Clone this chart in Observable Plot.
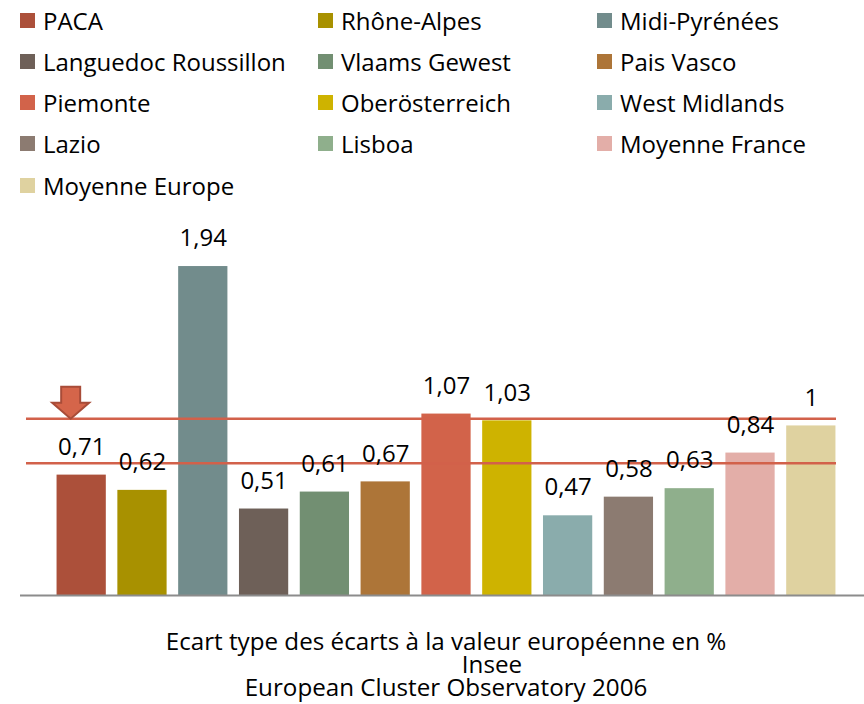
<!DOCTYPE html>
<html>
<head>
<meta charset="utf-8">
<script src="https://cdn.jsdelivr.net/npm/d3@7"></script>
<script src="https://cdn.jsdelivr.net/npm/@observablehq/plot@0.6"></script>
<style>
  html, body { margin: 0; padding: 0; background: #fff; }
  #wrap { position: relative; width: 864px; height: 704px; overflow: hidden; font-family: "Open Sans", sans-serif; color: #000; }
  .lg { position: absolute; display: flex; align-items: center; height: 30px; font-size: 24px; white-space: nowrap; }
  .sw { width: 15px; height: 15px; margin-right: 8px; flex: none; }
  #chart { position: absolute; left: 0; top: 205px; }
  #cap { position: absolute; left: 0; top: 629px; width: 864px; text-align: center; font-size: 24.2px; line-height: 23px; }
  #cap div { height: 23px; }
</style>
</head>
<body>
<div id="wrap">
  <div id="legend"></div>
  <div id="chart"></div>
  <div id="cap"></div>
</div>
<script>
const categories = ["PACA", "Rhône-Alpes", "Midi-Pyrénées", "Languedoc Roussillon", "Vlaams Gewest", "Pais Vasco", "Piemonte", "Oberösterreich", "West Midlands", "Lazio", "Lisboa", "Moyenne France", "Moyenne Europe"];
const values = [0.71, 0.62, 1.94, 0.51, 0.61, 0.67, 1.07, 1.03, 0.47, 0.58, 0.63, 0.84, 1];
const colors = ["#ac503a", "#a89100", "#728c8c", "#6e6058", "#728f72", "#ad7538", "#d2634a", "#ceb300", "#8aacac", "#8c7b71", "#8faf8c", "#e3aea8", "#dfd2a0"];
const refLines = [1.043, 0.78];
const captionLines = ["Ecart type des écarts à la valeur européenne en %", "Insee", "European Cluster Observatory 2006"];

const fmt = v => String(v).replace(".", ",");
const data = categories.map((c, i) => ({cat: c, value: values[i], color: colors[i]}));

// Legend (3 columns, row-major)
const legend = document.getElementById("legend");
const colX = [20, 318, 597];
categories.forEach((c, i) => {
  const col = i % 3, row = Math.floor(i / 3);
  const el = document.createElement("div");
  el.className = "lg";
  el.style.left = colX[col] + "px";
  el.style.top = (5 + row * 41.3) + "px";
  el.innerHTML = `<span class="sw" style="background:${colors[i]}"></span><span>${c}</span>`;
  legend.appendChild(el);
});

// Arrow symbol (tip at origin, pointing down)
const arrowSymbol = {
  draw(ctx) {
    ctx.moveTo(-9.5, -32);
    ctx.lineTo(9.5, -32);
    ctx.lineTo(9.5, -16);
    ctx.lineTo(18.5, -16);
    ctx.lineTo(0, 0);
    ctx.lineTo(-18.5, -16);
    ctx.lineTo(-9.5, -16);
    ctx.closePath();
  }
};

const chart = Plot.plot({
  width: 864,
  height: 400,
  marginLeft: 20,
  marginRight: 0,
  marginTop: 0,
  marginBottom: 10,
  style: {fontFamily: "Open Sans", background: "transparent"},
  x: {domain: categories, padding: 0.19, round: false, insetLeft: 25, insetRight: 17, axis: null},
  y: {domain: [0, 2.30], axis: null},
  marks: [
    Plot.barY(data, {x: "cat", y: "value", fill: "color"}),
    Plot.ruleY(refLines, {stroke: "#d2614a", strokeWidth: 2.5, insetLeft: 6, insetRight: 28}),
    Plot.ruleY([0], {stroke: "#8c8c8c", strokeWidth: 2}),
    Plot.text(data, {x: "cat", y: "value", text: d => fmt(d.value), dy: -28, fontSize: 24, fill: "#000"}),
    Plot.dot([categories[0]], {x: d => d, y: () => refLines[0], symbol: arrowSymbol, r: 10, fill: "#d5654a", stroke: "#a84c38", strokeWidth: 2, dx: -11})
  ]
});
document.getElementById("chart").appendChild(chart);

// Caption
const cap = document.getElementById("cap");
captionLines.forEach((t, i) => {
  const d = document.createElement("div");
  d.textContent = t;
  d.style.paddingLeft = (i === 1 ? 120 : 28) + "px";
  cap.appendChild(d);
});
</script>
</body>
</html>
